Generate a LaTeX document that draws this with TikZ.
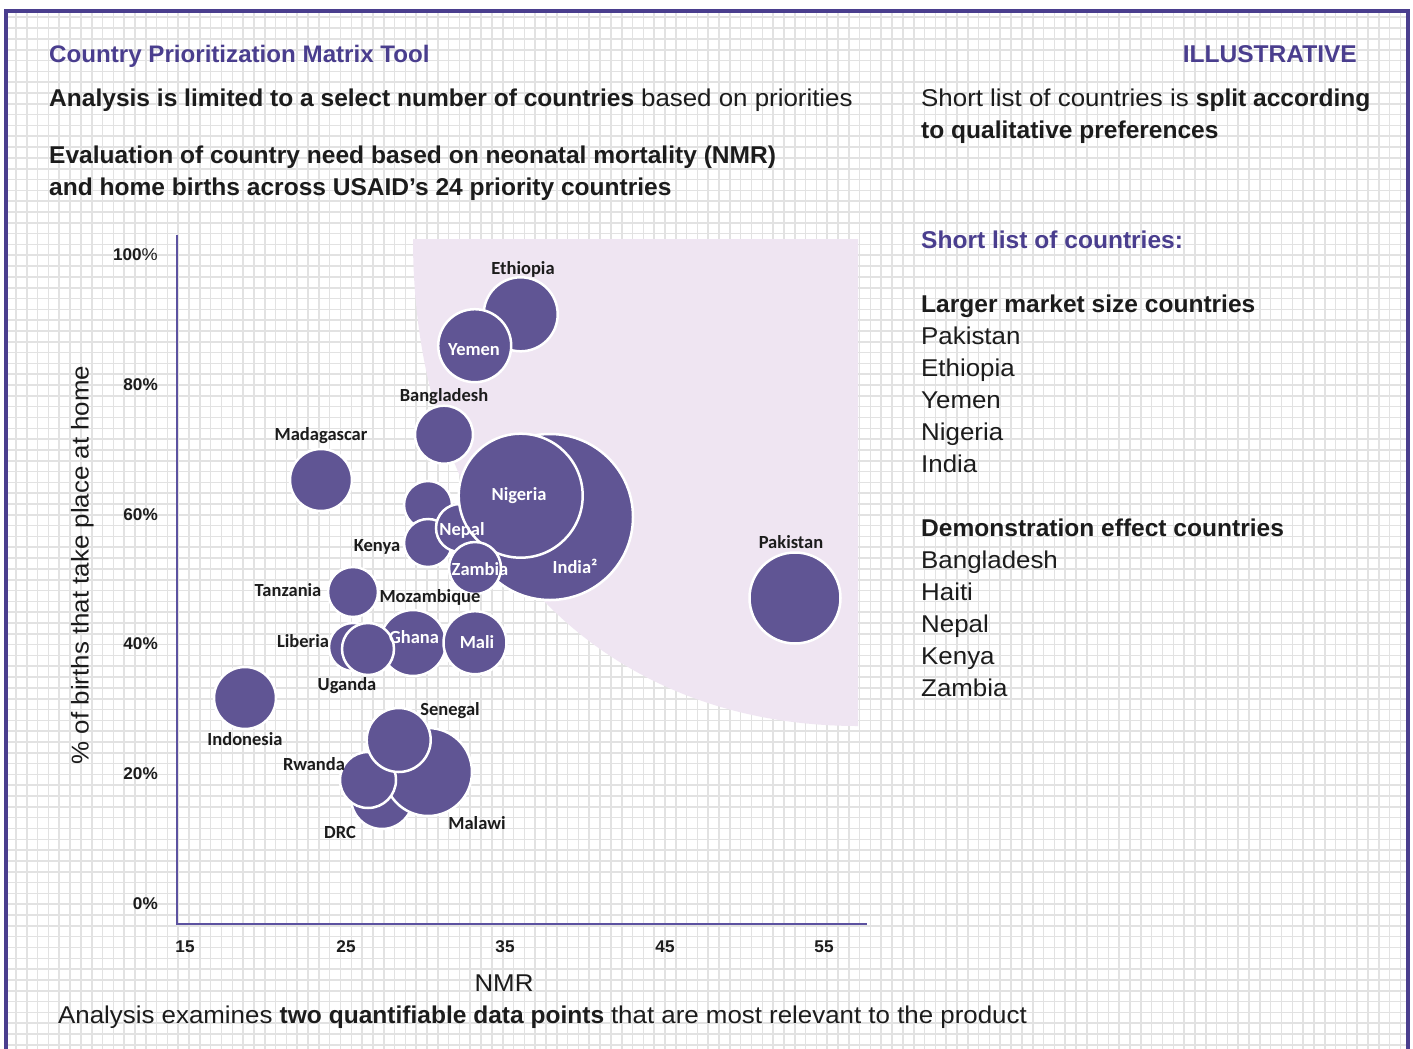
\documentclass[tikz,border=0pt]{standalone}
\usepackage{fontspec}
\setmainfont{Liberation Sans}[UprightFeatures={FakeStretch=1.065},BoldFeatures={FakeStretch=1.01}]
\newfontfamily\calib{Carlito}
\definecolor{framec}{RGB}{74,62,142}
\definecolor{bubblec}{RGB}{96,85,148}
\definecolor{shadec}{RGB}{239,229,242}
\definecolor{gridc}{RGB}{226,226,226}
\definecolor{axisc}{RGB}{92,82,160}
\definecolor{inkc}{RGB}{28,28,28}
\newcommand\bigf{\fontsize{24.3}{29}\selectfont}
\newcommand\tickf{\fontsize{17}{20}\selectfont}
\newcommand\lblf{\calib\bfseries\fontsize{18.5}{21}\selectfont}
\begin{document}
\begin{tikzpicture}[x=1pt,y=-1pt,
  txt/.style={inner sep=0pt, text=inkc, font=\bigf},
  ttl/.style={inner sep=0pt, text=framec, font=\bigf\bfseries},
  tick/.style={inner sep=0pt, text=inkc, font=\tickf},
  bubble/.style={circle, inner sep=0pt, fill=bubblec, draw=white, line width=2.5pt},
  lbl/.style={inner sep=0pt, anchor=base, text=inkc, font=\lblf},
  wlbl/.style={inner sep=0pt, anchor=base, text=white, font=\lblf}]
\useasboundingbox (0,0) rectangle (1413,1049);
\fill[white] (0,0) rectangle (1413,1049);
% grid
\foreach \i in {0,...,128} {\draw[gridc, line width=1.6pt] ({16+\i*10.816},13) -- ({16+\i*10.816},1049);}
\foreach \j in {0,...,95} {\draw[gridc, line width=1.6pt] (8,{17.3+\j*10.816}) -- (1406,{17.3+\j*10.816});}
% frame
\draw[framec, line width=4pt] (6.2,1052) -- (6.2,11.3) -- (1408.3,11.3) -- (1408.3,1052);
% texts
\node[ttl, anchor=base west] (title) at (49,63) {\fontsize{23.9}{29}\selectfont Country Prioritization Matrix Tool};
\node[ttl, anchor=base east] (illus) at (1357,63) {ILLUSTRATIVE};
\node[txt, anchor=base west] (l1) at (49,106) {\bfseries Analysis is limited to a select number of countries \mdseries based on priorities};
\node[txt, anchor=base west] (l2) at (49,163) {\bfseries Evaluation of country need based on neonatal mortality (NMR)};
\node[txt, anchor=base west] (l3) at (49,195) {\bfseries and home births across USAID’s 24 priority countries};
\node[txt, anchor=base west] (r1) at (921,106) {Short list of countries is \bfseries split according};
\node[txt, anchor=base west] (r2) at (921,138) {\bfseries to qualitative preferences};
\node[ttl, anchor=base west] (r3) at (921,248) {Short list of countries:};
\node[txt, anchor=base west] (g1) at (921,312) {\bfseries Larger market size countries};
\node[txt, anchor=base west] (g1a) at (921,344) {Pakistan};
\node[txt, anchor=base west] (g1b) at (921,376) {Ethiopia};
\node[txt, anchor=base west] (g1c) at (921,408) {Yemen};
\node[txt, anchor=base west] (g1d) at (921,440) {Nigeria};
\node[txt, anchor=base west] (g1e) at (921,472) {India};
\node[txt, anchor=base west] (g2) at (921,536) {\bfseries Demonstration effect countries};
\node[txt, anchor=base west] (g2a) at (921,568) {Bangladesh};
\node[txt, anchor=base west] (g2b) at (921,600) {Haiti};
\node[txt, anchor=base west] (g2c) at (921,632) {Nepal};
\node[txt, anchor=base west] (g2d) at (921,664) {Kenya};
\node[txt, anchor=base west] (g2e) at (921,696) {Zambia};
\node[txt, anchor=base west] (bottom) at (58,1023) {Analysis examines \bfseries two quantifiable data points \mdseries that are most relevant to the product};
% shaded region
\fill[shadec] (413,239) -- (858,239) -- (858,726) .. controls (591,726) and (413,531) .. (413,239) -- cycle;
% axes
\coordinate (ytop) at (177,235);
\coordinate (orig) at (177,924);
\coordinate (xend) at (867,924);
\draw[axisc, line width=1.6pt] (ytop) -- (orig) -- (xend);
% tick labels
\node[tick, anchor=base east] (y100) at (158,260) {\bfseries 100\mdseries\%};
\node[tick, anchor=base east] (y80) at (158,390) {\bfseries 80\%};
\node[tick, anchor=base east] (y60) at (158,520) {\bfseries 60\%};
\node[tick, anchor=base east] (y40) at (158,649) {\bfseries 40\%};
\node[tick, anchor=base east] (y20) at (158,779) {\bfseries 20\%};
\node[tick, anchor=base east] (y0) at (158,909) {\bfseries 0\%};
\node[tick, anchor=base] (x15) at (185,952) {\bfseries 15};
\node[tick, anchor=base] (x25) at (346,952) {\bfseries 25};
\node[tick, anchor=base] (x35) at (505,952) {\bfseries 35};
\node[tick, anchor=base] (x45) at (665,952) {\bfseries 45};
\node[tick, anchor=base] (x55) at (824,952) {\bfseries 55};
\node[txt, anchor=base] (xlab) at (504,991) {NMR};
\node[txt, anchor=base, rotate=90] (ylab) at (88.5,565) {\% of births that take place at home};
% bubbles
\node[bubble, minimum size=74pt] (ethiopia) at (520.7,314.3) {};
\node[bubble, minimum size=73pt] (yemen) at (474.7,345.7) {};
\node[bubble, minimum size=58pt] (bangladesh) at (444,434.7) {};
\node[bubble, minimum size=62pt] (madagascar) at (321,480) {};
\node[bubble, minimum size=166pt] (india) at (550,517) {};
\node[bubble, minimum size=48pt] (haiti) at (428,505) {};
\node[bubble, minimum size=48pt] (kenya) at (428,543) {};
\node[bubble, minimum size=48pt] (nepal) at (460,528) {};
\node[bubble, minimum size=124pt] (nigeria) at (520.7,495.7) {};
\node[bubble, minimum size=52pt] (zambia) at (475,568) {};
\node[bubble, minimum size=91pt] (pakistan) at (795,598) {};
\node[bubble, minimum size=50pt] (tanzania) at (353,592) {};
\node[bubble, minimum size=66pt] (ghana) at (413,643) {};
\node[bubble, minimum size=63pt] (mali) at (475,642.7) {};
\node[bubble, minimum size=48pt] (liberia) at (353,647) {};
\node[bubble, minimum size=52pt] (uganda) at (368,649) {};
\node[bubble, minimum size=62pt] (indonesia) at (245,698) {};
\node[bubble, minimum size=62pt] (drc) at (382,798) {};
\node[bubble, minimum size=88pt] (malawi) at (428,772) {};
\node[bubble, minimum size=56pt] (rwanda) at (368,780) {};
\node[bubble, minimum size=64pt] (senegal) at (398.7,740) {};
% bubble labels
\node[lbl] (lethiopia) at (523,274) {Ethiopia};
\node[lbl] (lbangladesh) at (444,401) {Bangladesh};
\node[lbl] (lmadagascar) at (321,440) {Madagascar};
\node[lbl] (lpakistan) at (791,548) {Pakistan};
\node[lbl] (lkenya) at (377,551) {Kenya};
\node[lbl] (ltanzania) at (288,596) {Tanzania};
\node[lbl] (lmozambique) at (430,602) {Mozambique};
\node[lbl] (lliberia) at (303,647) {Liberia};
\node[lbl] (luganda) at (347,690) {Uganda};
\node[lbl] (lindonesia) at (245,745) {Indonesia};
\node[lbl] (lsenegal) at (450,715) {Senegal};
\node[lbl] (lrwanda) at (314,770) {Rwanda};
\node[lbl] (ldrc) at (340,838) {DRC};
\node[lbl] (lmalawi) at (477,829) {Malawi};
\node[wlbl] (lyemen) at (474,355) {Yemen};
\node[wlbl] (lnigeria) at (519,500) {Nigeria};
\node[wlbl] (lnepal) at (462,535) {Nepal};
\node[wlbl] (lzambia) at (480,575) {Zambia};
\node[wlbl] (lindia) at (575,573) {India²};
\node[wlbl] (lghana) at (414,643) {Ghana};
\node[wlbl] (lmali) at (477,648) {Mali};
\end{tikzpicture}
\end{document}
